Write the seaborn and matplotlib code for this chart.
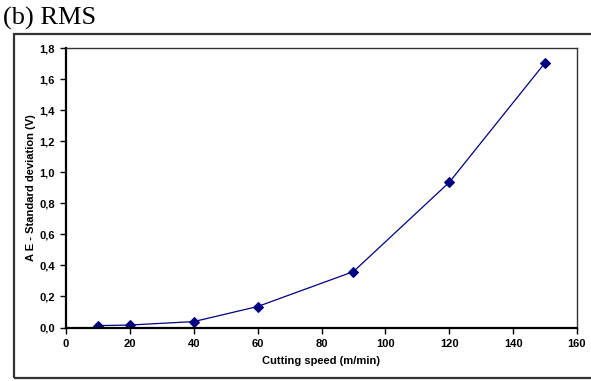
import matplotlib
matplotlib.use("Agg")
import matplotlib.pyplot as plt
import seaborn as sns
import pandas as pd
from matplotlib.patches import Rectangle
from matplotlib.ticker import FuncFormatter

speed = [10, 20, 40, 60, 90, 120, 150]
ae_std = [0.012, 0.016, 0.038, 0.135, 0.36, 0.935, 1.705]
x_ticks = [0, 20, 40, 60, 80, 100, 120, 140, 160]
y_ticks = [0.0, 0.2, 0.4, 0.6, 0.8, 1.0, 1.2, 1.4, 1.6, 1.8]

df = pd.DataFrame({"speed": speed, "ae": ae_std})

sns.set_style("white")
plt.rcParams["font.family"] = ["Liberation Sans", "DejaVu Sans"]
plt.rcParams["text.color"] = "black"
plt.rcParams["xtick.color"] = "black"
plt.rcParams["ytick.color"] = "black"
plt.rcParams["axes.labelcolor"] = "black"

W, H = 591, 381
fig = plt.figure(figsize=(W / 100, H / 100), dpi=100)

def fx(px):
    return px / W

def fy(py):
    return 1 - py / H

# Outer chart frame
fig.patches.append(Rectangle((fx(14), fy(378)), fx(600) - fx(14), fy(34) - fy(378),
                             transform=fig.transFigure, fill=False,
                             edgecolor="#333333", linewidth=1.6))

left, right, top, bottom = 66, 577, 48, 327.5
ax = fig.add_axes([fx(left), fy(bottom), fx(right) - fx(left), fy(top) - fy(bottom)])

sns.lineplot(data=df, x="speed", y="ae", ax=ax, color="#000080", linewidth=0.9,
             marker="D", markersize=5.5, markeredgecolor="#000080",
             markerfacecolor="#000080")

ax.set_xlim(0, 160)
ax.set_ylim(0, 1.8)
ax.set_xticks(x_ticks)
ax.set_yticks(y_ticks)
ax.yaxis.set_major_formatter(FuncFormatter(lambda v, p: f"{v:.1f}".replace(".", ",")))
ax.tick_params(axis="both", direction="out", length=4, width=1, color="black",
               labelcolor="black", labelsize=8, pad=4, left=True, bottom=True)
for lab in ax.get_xticklabels() + ax.get_yticklabels():
    lab.set_fontweight("bold")

for s in ["left", "bottom"]:
    ax.spines[s].set_color("black")
    ax.spines[s].set_linewidth(1.6)
for s in ["top", "right"]:
    ax.spines[s].set_color("#333333")
    ax.spines[s].set_linewidth(1.0)

ax.set_xlabel("Cutting speed (m/min)", fontsize=8, fontweight="bold", labelpad=5,
              color="black")
ax.set_ylabel("A E - Standard deviation (V)", fontsize=8, fontweight="bold", labelpad=2,
              color="black")

fig.text(fx(3), fy(18), "(b) RMS", fontsize=19, family=["Liberation Serif", "DejaVu Serif"],
         va="center", ha="left", color="black")

fig.savefig("out.png", dpi=100)
